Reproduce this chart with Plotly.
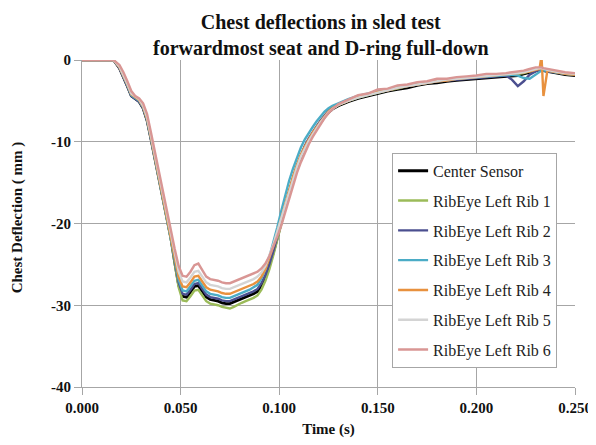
import plotly.graph_objects as go

time_ms = [0, 10, 16, 19, 21, 23, 25, 27, 29, 31, 33, 35, 37, 39, 41, 43, 45, 47, 49, 51,
           53, 55, 57, 59, 61, 63, 65, 67, 69, 71, 73, 75, 77, 79, 81, 83, 85, 87, 89, 91,
           93, 95, 97, 99, 101, 103, 105, 107, 109, 111, 113, 115, 117, 119, 121, 123, 125, 127,
           130, 135, 140, 145, 150, 155, 160, 165, 170, 175, 180, 185, 190, 195, 200, 205, 210, 215,
           218, 221, 224, 227, 230, 232, 233, 234, 236, 240, 245, 250]

center = [0, 0, 0, -1.0, -2.0, -3.2, -4.4, -4.8, -5.1, -5.9, -7.4, -9.7, -12.1, -14.5, -16.9, -19.3, -21.7, -24.7, -27.5, -28.9,
          -29.0, -28.4, -27.7, -27.6, -28.3, -29.0, -29.3, -29.4, -29.5, -29.7, -29.8, -29.8, -29.6, -29.4, -29.2, -29.0, -28.8, -28.6, -28.3, -27.6,
          -26.6, -25.2, -23.6, -21.8, -19.9, -18.0, -16.2, -14.6, -13.1, -11.8, -10.7, -9.8, -9.0, -8.3, -7.6, -7.0, -6.4, -6.0,
          -5.6, -5.1, -4.7, -4.4, -4.1, -3.8, -3.6, -3.4, -3.1, -2.9, -2.8, -2.6, -2.5, -2.4, -2.3, -2.2, -2.1, -2.0,
          -1.9, -1.9, -1.7, -1.5, -1.3, -1.2, -1.2, -1.3, -1.4, -1.6, -1.8, -1.9]

rib1 = [0, 0, 0, -0.9, -1.9, -3.1, -4.3, -4.7, -5.0, -5.8, -7.3, -9.6, -12.0, -14.4, -16.8, -19.3, -21.8, -24.9, -27.8, -29.4,
        -29.5, -28.9, -28.2, -28.1, -28.8, -29.5, -29.8, -29.9, -30.0, -30.2, -30.3, -30.4, -30.2, -29.9, -29.7, -29.5, -29.3, -29.1, -28.8, -28.1,
        -27.0, -25.6, -23.9, -22.0, -20.0, -18.0, -16.1, -14.5, -13.0, -11.7, -10.6, -9.7, -8.9, -8.2, -7.5, -6.9, -6.3, -5.9,
        -5.5, -5.0, -4.6, -4.3, -4.0, -3.7, -3.5, -3.2, -3.0, -2.8, -2.6, -2.5, -2.3, -2.2, -2.1, -2.0, -1.9, -1.9,
        -1.8, -1.7, -1.6, -1.4, -1.2, -1.1, -1.1, -1.2, -1.3, -1.5, -1.7, -1.8]

rib2 = [0, 0, 0, -1.0, -2.0, -3.2, -4.4, -4.8, -5.1, -5.9, -7.4, -9.7, -12.1, -14.5, -16.9, -19.3, -21.6, -24.5, -27.2, -28.6,
        -28.7, -28.1, -27.4, -27.3, -28.0, -28.7, -29.0, -29.1, -29.2, -29.4, -29.5, -29.5, -29.3, -29.1, -28.9, -28.7, -28.5, -28.3, -28.0, -27.3,
        -26.3, -25.0, -23.4, -21.6, -19.7, -17.8, -16.0, -14.4, -12.9, -11.6, -10.5, -9.6, -8.8, -8.1, -7.4, -6.8, -6.2, -5.8,
        -5.4, -4.9, -4.5, -4.2, -3.9, -3.7, -3.4, -3.2, -3.0, -2.8, -2.6, -2.5, -2.4, -2.3, -2.2, -2.1, -2.0, -1.9,
        -2.4, -3.2, -2.6, -1.8, -1.4, -1.2, -1.1, -1.2, -1.4, -1.5, -1.7, -1.8]

rib3 = [0, 0, 0, -0.9, -1.9, -3.1, -4.3, -4.7, -5.0, -5.8, -7.3, -9.6, -12.0, -14.4, -16.8, -19.2, -21.5, -24.3, -26.9, -28.2,
        -28.3, -27.7, -27.0, -26.9, -27.6, -28.3, -28.6, -28.7, -28.8, -29.0, -29.1, -29.1, -28.9, -28.7, -28.5, -28.3, -28.1, -27.8, -27.5, -26.7,
        -25.6, -24.1, -22.4, -20.5, -18.5, -16.6, -14.8, -13.3, -11.9, -10.7, -9.7, -8.9, -8.2, -7.5, -6.9, -6.3, -5.9, -5.6,
        -5.3, -4.8, -4.4, -4.1, -3.8, -3.6, -3.3, -3.1, -2.9, -2.7, -2.5, -2.4, -2.3, -2.2, -2.1, -2.0, -1.9, -1.8,
        -1.8, -1.9, -2.2, -2.3, -1.8, -1.4, -1.3, -1.3, -1.3, -1.5, -1.7, -1.8]

rib4 = [0, 0, 0, -0.9, -1.9, -3.0, -4.2, -4.6, -4.9, -5.7, -7.2, -9.5, -11.9, -14.3, -16.7, -19.1, -21.4, -24.1, -26.5, -27.7,
        -27.8, -27.2, -26.5, -26.4, -27.1, -27.8, -28.1, -28.2, -28.3, -28.5, -28.6, -28.6, -28.4, -28.2, -28.0, -27.8, -27.6, -27.4, -27.1, -26.5,
        -25.6, -24.3, -22.8, -21.1, -19.4, -17.6, -15.9, -14.3, -12.9, -11.6, -10.6, -9.7, -8.9, -8.2, -7.5, -6.9, -6.3, -5.9,
        -5.5, -5.0, -4.5, -4.2, -3.9, -3.7, -3.4, -3.2, -3.0, -2.8, -2.6, -2.5, -2.3, -2.2, -2.1, -2.0, -1.9, -1.8,
        -1.7, -1.6, -1.5, -1.4, -1.2, -1.1, 0.5, -4.4, -1.3, -1.5, -1.7, -1.8]

rib5 = [0, 0, 0, -0.8, -1.8, -2.9, -4.1, -4.5, -4.8, -5.6, -7.0, -9.3, -11.7, -14.1, -16.5, -18.9, -21.2, -23.7, -25.9, -27.1,
        -27.2, -26.6, -25.9, -25.8, -26.5, -27.2, -27.5, -27.6, -27.7, -27.9, -28.0, -28.0, -27.8, -27.6, -27.4, -27.2, -27.0, -26.8, -26.5, -26.0,
        -25.2, -24.0, -22.6, -21.0, -19.4, -17.7, -16.0, -14.5, -13.1, -11.8, -10.8, -9.9, -9.1, -8.3, -7.6, -7.0, -6.4, -6.0,
        -5.5, -5.0, -4.6, -4.3, -4.0, -3.7, -3.4, -3.2, -3.0, -2.8, -2.6, -2.4, -2.3, -2.2, -2.1, -2.0, -1.9, -1.8,
        -1.7, -1.6, -1.5, -1.3, -1.1, -1.0, -1.0, -1.1, -1.2, -1.4, -1.6, -1.7]

rib6 = [0, 0, 0, -0.6, -1.5, -2.6, -3.8, -4.4, -4.7, -5.3, -6.6, -8.9, -11.3, -13.7, -16.1, -18.5, -20.8, -23.1, -25.2, -26.4,
        -26.5, -25.9, -25.1, -24.9, -25.7, -26.5, -26.8, -26.9, -27.0, -27.2, -27.3, -27.3, -27.1, -26.9, -26.7, -26.5, -26.3, -26.1, -25.9, -25.5,
        -24.9, -24.0, -22.9, -21.6, -20.3, -18.6, -16.9, -15.3, -13.8, -12.5, -11.3, -10.3, -9.4, -8.6, -7.8, -7.1, -6.5, -6.0,
        -5.4, -4.8, -4.3, -4.1, -3.6, -3.5, -3.1, -3.0, -2.7, -2.6, -2.3, -2.3, -2.1, -2.0, -1.9, -1.7, -1.7, -1.6,
        -1.5, -1.4, -1.3, -1.1, -0.9, -0.9, -0.9, -1.0, -1.1, -1.3, -1.5, -1.6]

series_names = ["Center Sensor", "RibEye Left Rib 1", "RibEye Left Rib 2", "RibEye Left Rib 3",
                "RibEye Left Rib 4", "RibEye Left Rib 5", "RibEye Left Rib 6"]
series_values = [center, rib1, rib2, rib3, rib4, rib5, rib6]
colors = ["#000000", "#9BBB59", "#4B4F8F", "#4BACC6", "#E8913E", "#D4D4D4", "#D99694"]
widths = [2.8, 2.4, 2.4, 2.4, 2.4, 2.4, 2.4]

x_ticks = [0.0, 0.05, 0.10, 0.15, 0.20, 0.25]
x_labels = ["0.000", "0.050", "0.100", "0.150", "0.200", "0.250"]
y_ticks = [0, -10, -20, -30, -40]
title_lines = ["Chest deflections in sled test", "forwardmost seat and D-ring full-down"]
x_title = "Time (s)"
y_title = "Chest Deflection ( mm )"

time_s = [t / 1000 for t in time_ms]

fig = go.Figure()
for i, (name, vals) in enumerate(zip(series_names, series_values)):
    fig.add_trace(go.Scatter(x=time_s, y=vals, mode="lines", name=name,
                             legendgroup=str(i),
                             line=dict(color=colors[i], width=widths[i])))

serif = "Liberation Serif, Times New Roman, serif"
grid = "#A6A6A6"
fig.update_layout(
    width=596, height=445,
    margin=dict(l=74, r=29, t=52, b=66),
    paper_bgcolor="white", plot_bgcolor="white",
    font=dict(family=serif, color="#111"),
    showlegend=True,
    legend=dict(x=0.629, y=0.716, xanchor="left", yanchor="top",
                bgcolor="white", bordercolor="#A6A6A6", borderwidth=1,
                font=dict(family=serif, size=16, color="#222"),
                tracegroupgap=6, itemwidth=30),
)
fig.add_annotation(text="<b>" + "<br>".join(title_lines) + "</b>", xref="paper", yref="paper",
                   x=0.485, y=1.156, xanchor="center", yanchor="top", align="center",
                   showarrow=False, font=dict(family=serif, size=20, color="#111"))

fig.add_annotation(text=f"<b>{y_title}</b>", xref="paper", yref="paper",
                   x=-0.129, y=0.52, xanchor="center", yanchor="middle", textangle=-90,
                   showarrow=False, font=dict(family=serif, size=15, color="#111"))

fig.update_xaxes(range=[0, 0.25], tickvals=x_ticks, ticktext=[f"<b>{s}</b>" for s in x_labels],
                 tickfont=dict(family=serif, size=15, color="#111"),
                 showgrid=True, gridcolor=grid, gridwidth=1,
                 showline=True, linecolor=grid, linewidth=1,
                 ticks="outside", tickcolor=grid, ticklen=7, zeroline=False,
                 title=dict(text=f"<b>{x_title}</b>", font=dict(family=serif, size=15), standoff=8))
fig.update_yaxes(range=[-40, 0], tickvals=y_ticks, ticktext=[f"<b>{v}</b>" for v in y_ticks],
                 tickfont=dict(family=serif, size=15, color="#111"),
                 showgrid=True, gridcolor=grid, gridwidth=1,
                 showline=True, linecolor=grid, linewidth=1,
                 ticks="outside", tickcolor=grid, ticklen=7, zeroline=False)

fig.write_html("out.html")
